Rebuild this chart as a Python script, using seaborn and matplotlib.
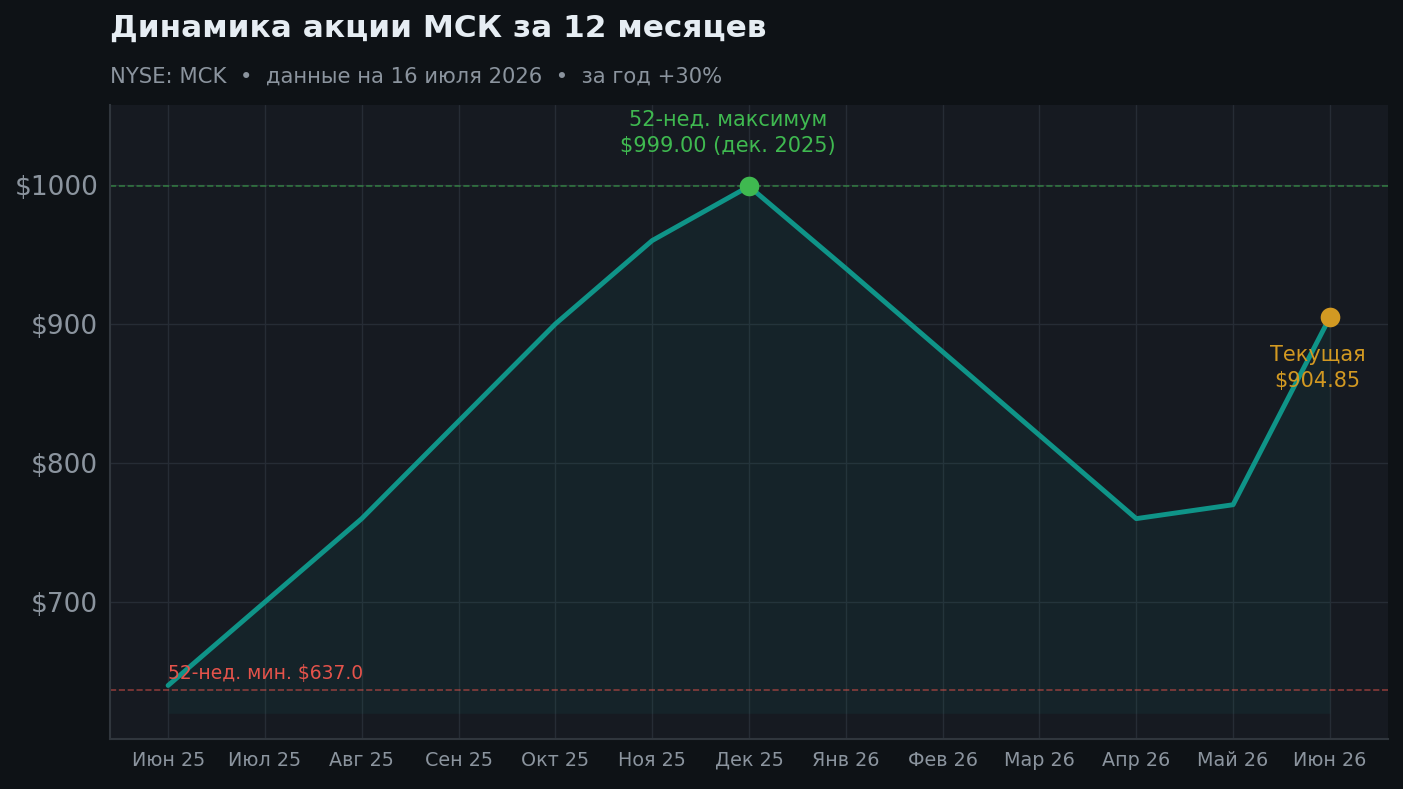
import numpy as np
import pandas as pd
import matplotlib
matplotlib.use("Agg")
import matplotlib.pyplot as plt
import seaborn as sns

# данные
months = ["Июн 25", "Июл 25", "Авг 25", "Сен 25", "Окт 25", "Ноя 25", "Дек 25",
          "Янв 26", "Фев 26", "Мар 26", "Апр 26", "Май 26", "Июн 26"]
prices = [640, 700, 760, 830, 900, 960, 999, 940, 880, 820, 760, 770, 904.85]
high_52w = 999.0
low_52w = 637.0
peak_idx = 6
yticks = [700, 800, 900, 1000]

BG = "#0e1216"
PANEL = "#161a21"
TEAL = "#0f9488"
GREEN = "#3fb950"
RED = "#e5534b"
ORANGE = "#d29922"
MUTED = "#8b949e"

df = pd.DataFrame({"x": np.arange(len(months)), "price": prices})

sns.set_theme(style="darkgrid")
plt.rcParams["font.family"] = ["DejaVu Sans"]

fig = plt.figure(figsize=(14.03, 7.89), dpi=100, facecolor=BG)
ax = fig.add_axes([110 / 1403, 1 - 739 / 789, 1278 / 1403, 634 / 789])
ax.set_facecolor(PANEL)

fill_base = 620
ax.fill_between(df["x"], df["price"], fill_base, color=TEAL, alpha=0.08, lw=0, zorder=1)
sns.lineplot(data=df, x="x", y="price", ax=ax, color=TEAL, lw=3.5, zorder=3)

ax.axhline(high_52w, color=GREEN, ls="--", lw=1.2, alpha=0.55, zorder=2)
ax.axhline(low_52w, color=RED, ls="--", lw=1.2, alpha=0.55, zorder=2)

ax.scatter([peak_idx], [high_52w], s=200, color=GREEN, zorder=5, lw=0)
ax.scatter([df["x"].iloc[-1]], [prices[-1]], s=200, color=ORANGE, zorder=5, lw=0)

ax.annotate(f"52-нед. максимум\n${high_52w:.2f} (дек. 2025)", xy=(peak_idx, high_52w),
            xytext=(-15, 22), textcoords="offset points", ha="center", va="bottom",
            color=GREEN, fontsize=15, linespacing=1.35)
ax.annotate(f"Текущая\n${prices[-1]:.2f}", xy=(df["x"].iloc[-1], prices[-1]),
            xytext=(-9, -20), textcoords="offset points", ha="center", va="top",
            color=ORANGE, fontsize=15, linespacing=1.35)
ax.text(0, low_52w + 5, f"52-нед. мин. ${low_52w:.1f}", color=RED, fontsize=13.5,
        ha="left", va="bottom")

ax.set_xlim(-0.6, len(months) - 0.4)
ax.set_ylim(601.5, 1057.5)
ax.set_xticks(df["x"])
ax.set_xticklabels(months)
ax.set_yticks(yticks)
ax.set_yticklabels([f"${v}" for v in yticks])
ax.set_xlabel("")
ax.set_ylabel("")

ax.grid(True, color="#262c35", lw=1)
ax.tick_params(axis="x", colors=MUTED, labelsize=13.8, length=5, width=1.5, color="#3a4048")
ax.tick_params(axis="y", colors=MUTED, labelsize=19, length=5, width=1.5, color="#3a4048")
for s in ["top", "right"]:
    ax.spines[s].set_visible(False)
for s in ["left", "bottom"]:
    ax.spines[s].set_visible(True)
    ax.spines[s].set_color("#30363d")
    ax.spines[s].set_linewidth(1.5)

fig.text(110 / 1403, 1 - 28 / 789, "Динамика акции МСК за 12 месяцев", color="#e6edf3",
         fontsize=22.4, fontweight="bold", ha="left", va="center")
fig.text(110 / 1403, 1 - 77 / 789, "NYSE: MCK  •  данные на 16 июля 2026  •  за год +30%",
         color=MUTED, fontsize=15.2, ha="left", va="center")

fig.savefig("out.png", dpi=100, facecolor=BG)
